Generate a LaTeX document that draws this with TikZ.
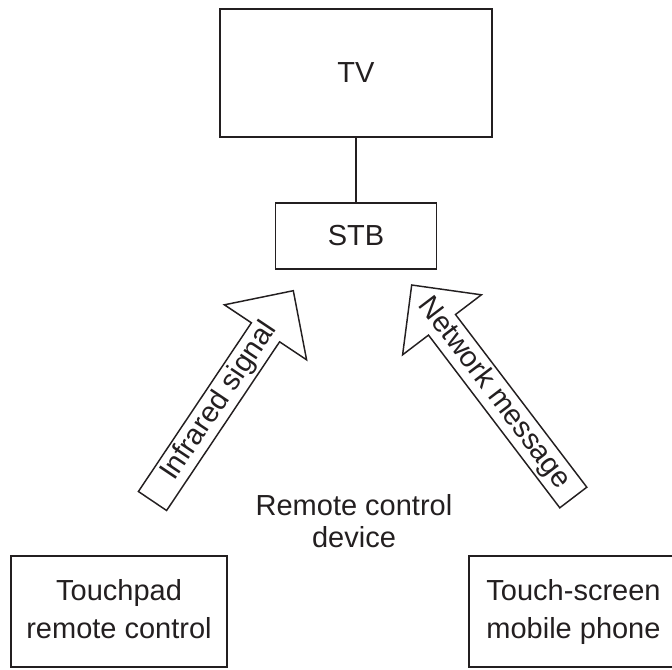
\documentclass[tikz,border=0pt]{standalone}
\usepackage{fontspec}
\setmainfont{Liberation Sans}
\definecolor{ink}{HTML}{231F20}
\begin{document}
\begin{tikzpicture}[x=0.75pt,y=-0.75pt,
  box/.style={draw=ink,line width=1.3pt,inner sep=0pt,outer sep=0pt,align=center,text=ink,
    font=\fontsize{21.75}{28.5}\selectfont},
  lbl/.style={inner sep=0pt,align=center,text=ink,font=\fontsize{21.75}{24}\selectfont},
  blockarrow/.style={draw=ink,line width=1.1pt,fill=white,line join=miter}]
\useasboundingbox (0,0) rectangle (672,669);
% boxes
\node[box,minimum width=204pt,minimum height=96pt] (tv) at (356,73) {TV};
\node[box,minimum width=120.75pt,minimum height=49.5pt] (stb) at (356,236) {STB};
\node[box,minimum width=162pt,minimum height=83.25pt] (touchpad) at (119,611.5) {Touchpad\\remote control\vphantom{p}};
\node[box,minimum width=156.75pt,minimum height=83.25pt] (phone) at (573.5,611.5) {Touch-screen\\mobile phone};
\node[lbl] (rcd) at (354,521.5) {Remote control\\device};
\draw[line width=0.8pt,ink] (tv.south) -- (stb.north);
% block arrow: infrared
\draw[blockarrow] (138.4,491.5) -- (251.4,322.8) -- (224.4,304.8) -- (293.3,290.7)
  -- (306.6,359.8) -- (279.6,341.8) -- (166.6,510.5) -- cycle;
\node[lbl,rotate=56.2] (ir) at (219.3,401.3) {Infrared signal};
% block arrow: network
\draw[blockarrow] (559.8,507.8) -- (428.5,335.1) -- (402.6,354.8) -- (411.7,285)
  -- (481.4,294.8) -- (455.5,314.5) -- (586.8,487.2) -- cycle;
\node[lbl,rotate=-52.75] (net) at (494,393.2) {Network message};
\end{tikzpicture}
\end{document}
